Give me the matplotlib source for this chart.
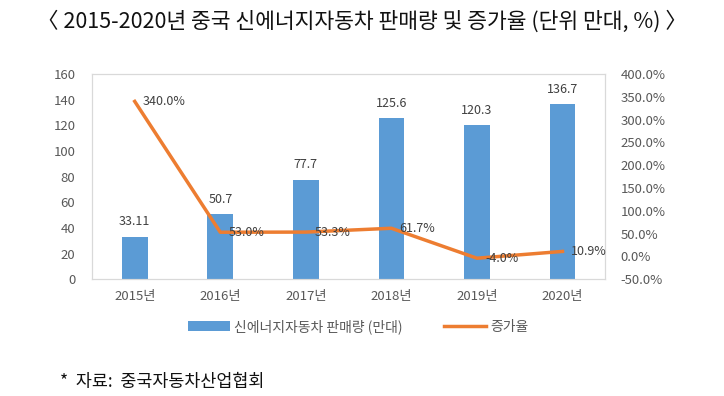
import numpy as np
import matplotlib.pyplot as plt

plt.rcParams['font.family'] = ['Noto Sans CJK KR', 'DejaVu Sans']

# 데이터
years = ['2015년', '2016년', '2017년', '2018년', '2019년', '2020년']
sales = [33.11, 50.7, 77.7, 125.6, 120.3, 136.7]
sales_labels = ['33.11', '50.7', '77.7', '125.6', '120.3', '136.7']
growth = [340.0, 53.0, 53.3, 61.7, -4.0, 10.9]

bar_color = '#5B9BD5'
line_color = '#ED7D31'
tick_color = '#595959'

fig = plt.figure(figsize=(7.24, 3.96), dpi=100)
ax = fig.add_axes([0.127, 0.295, 0.709, 0.518])
x = np.arange(len(years))

bars = ax.bar(x, sales, width=0.3, color=bar_color, label='신에너지자동차 판매량 (만대)', zorder=2)
ax.set_xlim(-0.5, 5.5)
ax.set_ylim(0, 160)
ax.set_yticks(np.arange(0, 161, 20))
ax.set_xticks(x)
ax.set_xticklabels(years)
for i, v in enumerate(sales):
    ax.annotate(sales_labels[i], (x[i], v), xytext=(0, 6), textcoords='offset points',
                ha='center', va='bottom', fontsize=9, color='#404040')

ax2 = ax.twinx()
ax2.plot(x, growth, color=line_color, linewidth=2.5, label='증가율', zorder=3)
ax2.set_ylim(-50, 400)
ax2.set_yticks(np.arange(-50, 401, 50))
ax2.set_yticklabels([f'{v:.1f}%' for v in np.arange(-50, 401, 50)])
for i, v in enumerate(growth):
    ax2.annotate(f'{v:.1f}%', (x[i], v), xytext=(6, 0), textcoords='offset points',
                 ha='left', va='center', fontsize=9, color='#404040')

for a in (ax, ax2):
    for s in a.spines.values():
        s.set_color('#D9D9D9')
        s.set_linewidth(0.8)
    a.tick_params(length=0, labelsize=9.5, colors=tick_color)
ax.tick_params(axis='y', pad=12)
ax.tick_params(axis='x', pad=8)
ax2.tick_params(axis='y', pad=11)

h1, l1 = ax.get_legend_handles_labels()
h2, l2 = ax2.get_legend_handles_labels()
fig.legend(h1 + h2, l1 + l2, loc='center', bbox_to_anchor=(0.495, 0.175), ncol=2,
           frameon=False, fontsize=10, labelcolor=tick_color, handlelength=3,
           handletextpad=0.3, columnspacing=3)

fig.text(0.5, 0.945, '〈 2015-2020년 중국 신에너지자동차 판매량 및 증가율 (단위 만대, %) 〉',
         ha='center', va='center', fontsize=15.5, color='#111111')
fig.text(0.083, 0.035, '*  자료:  중국자동차산업협회', ha='left', va='center', fontsize=12.5,
         color='#111111')

fig.savefig('out.png', dpi=100)
